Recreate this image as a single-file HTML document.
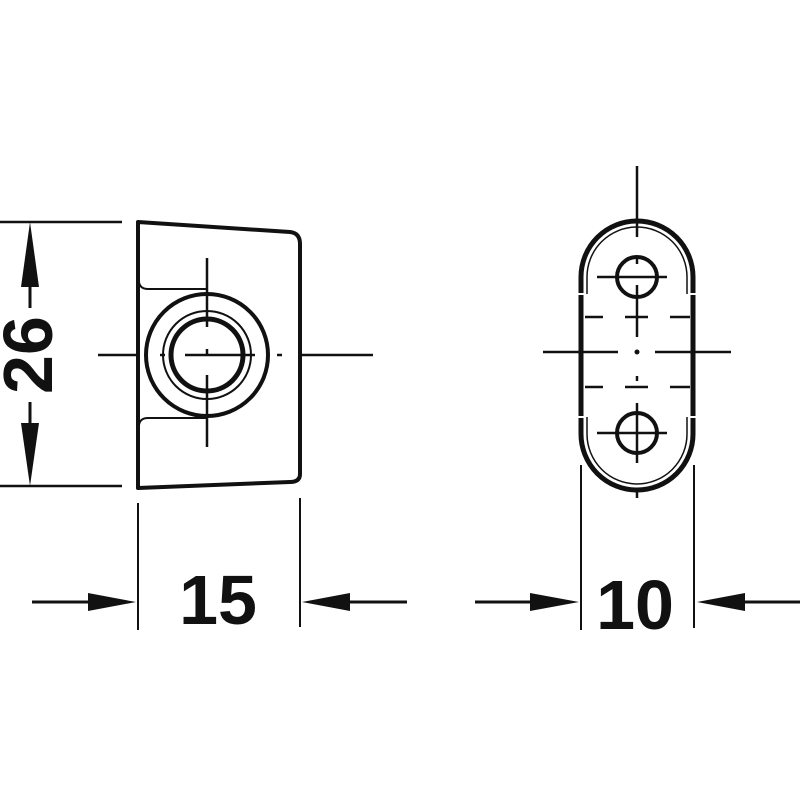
<!DOCTYPE html>
<html><head><meta charset="utf-8"><style>html,body{margin:0;padding:0;background:#fff}</style></head>
<body>
<svg width="800" height="800" viewBox="0 0 800 800" xmlns="http://www.w3.org/2000/svg">
<g stroke="#111" fill="none" stroke-linecap="butt">
<line x1="0" y1="222" x2="122" y2="222" stroke-width="2.5"/>
<line x1="0" y1="486" x2="122" y2="486" stroke-width="2.5"/>
<line x1="30" y1="285" x2="30" y2="308" stroke-width="3"/>
<line x1="30" y1="402" x2="30" y2="424" stroke-width="3"/>
<path d="M138 222 L290 232 Q300 233 300 244 L300 474 Q300 482 290 482 L138 488 Z" stroke-width="4" stroke-linejoin="round"/>
<path d="M139 282 Q140 289 148 289 L208 289" stroke-width="2"/>
<path d="M139 425 Q140 418 148 418 L208 418" stroke-width="2"/>
<circle cx="207" cy="355" r="61" stroke-width="4"/>
<circle cx="207" cy="355" r="44" stroke-width="2"/>
<circle cx="207" cy="355" r="36" stroke-width="5"/>
<line x1="207" y1="258" x2="207" y2="327" stroke-width="2.5"/>
<line x1="207" y1="375" x2="207" y2="447" stroke-width="2.5"/>
<line x1="207" y1="349" x2="207" y2="355" stroke-width="2.5"/>
<line x1="98" y1="355" x2="136" y2="355" stroke-width="2.5"/>
<line x1="160" y1="355" x2="165" y2="355" stroke-width="2.5"/>
<line x1="185" y1="355" x2="255" y2="355" stroke-width="2.5"/>
<line x1="277" y1="355" x2="282" y2="355" stroke-width="2.5"/>
<line x1="302" y1="355" x2="373" y2="355" stroke-width="2.5"/>
<line x1="138" y1="503" x2="138" y2="630" stroke-width="2"/>
<line x1="300" y1="498" x2="300" y2="627" stroke-width="2"/>
<line x1="32" y1="602" x2="90" y2="602" stroke-width="3"/>
<line x1="350" y1="602" x2="407" y2="602" stroke-width="3"/>
<line x1="637" y1="166" x2="637" y2="237" stroke-width="2.5"/>
<path d="M581 293 L581 277 A56 56 0 0 1 693 277 L693 293" stroke-width="5"/>
<path d="M587 294 L587 277 A50 50 0 0 1 687 277 L687 294" stroke-width="1.5"/>
<path d="M581 418 L581 434 A56 56 0 0 0 693 434 L693 418" stroke-width="5"/>
<path d="M587 417 L587 434 A50 50 0 0 0 687 434 L687 417" stroke-width="1.5"/>
<line x1="581" y1="295" x2="581" y2="416" stroke-width="5"/>
<line x1="693" y1="295" x2="693" y2="416" stroke-width="5"/>
<circle cx="637" cy="277" r="20" stroke-width="4"/>
<circle cx="637" cy="433" r="20" stroke-width="4"/>
<line x1="597" y1="277" x2="667" y2="277" stroke-width="2.5"/>
<line x1="597" y1="433" x2="667" y2="433" stroke-width="2.5"/>
<line x1="637" y1="258" x2="637" y2="264" stroke-width="2.5"/>
<line x1="637" y1="285" x2="637" y2="337" stroke-width="2.5"/>
<line x1="637" y1="376" x2="637" y2="381" stroke-width="2.5"/>
<line x1="637" y1="403" x2="637" y2="463" stroke-width="2.5"/>
<line x1="637" y1="490" x2="637" y2="498" stroke-width="2.5"/>
<circle cx="637" cy="352" r="2.5" fill="#111" stroke="none"/>
<line x1="543" y1="352" x2="618" y2="352" stroke-width="2.5"/>
<line x1="655" y1="352" x2="731" y2="352" stroke-width="2.5"/>
<g stroke-width="2.5">
<line x1="585" y1="317" x2="603" y2="317"/><line x1="625" y1="317" x2="648" y2="317"/><line x1="670" y1="317" x2="690" y2="317"/>
<line x1="585" y1="387" x2="603" y2="387"/><line x1="625" y1="387" x2="648" y2="387"/><line x1="670" y1="387" x2="690" y2="387"/>
</g>
<line x1="581" y1="465" x2="581" y2="630" stroke-width="2"/>
<line x1="694" y1="465" x2="694" y2="628" stroke-width="2"/>
<line x1="475" y1="602" x2="532" y2="602" stroke-width="3"/>
<line x1="745" y1="602" x2="800" y2="602" stroke-width="3"/>
</g>
<g fill="#111">
<polygon points="30,222 21,287 39,287"/>
<polygon points="30,486 21,423 39,423"/>
<polygon points="136,602 88,593 88,611"/>
<polygon points="302,602 350,593 350,611"/>
<polygon points="579,602 530,593 530,611"/>
<polygon points="697,602 745,593 745,611"/>
</g>
<g font-family="Liberation Sans, sans-serif" font-weight="bold" fill="#111" text-anchor="middle">
<text x="218" y="624" font-size="70">15</text>
<text x="635" y="629" font-size="70">10</text>
<text transform="translate(52,355) rotate(-90)" font-size="70">26</text>
</g>
</svg>
</body></html>
